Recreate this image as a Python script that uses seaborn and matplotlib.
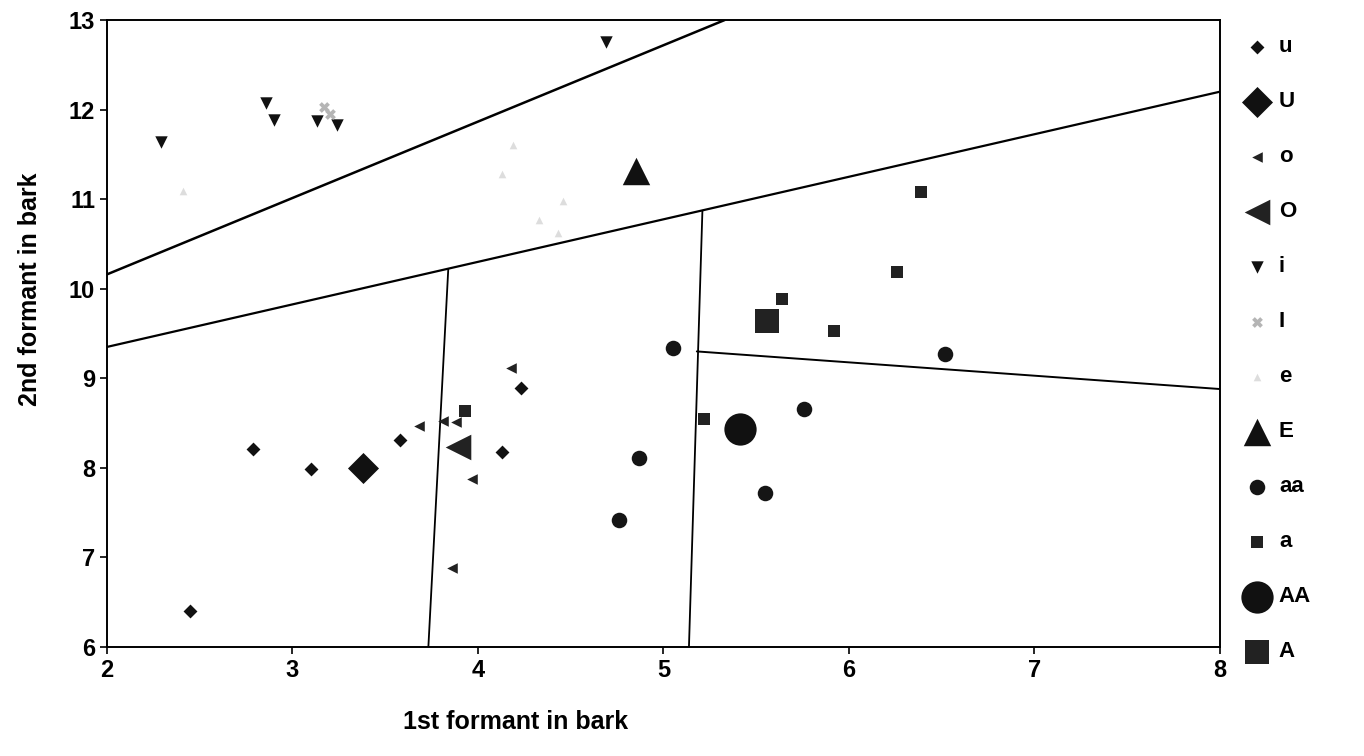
import matplotlib
matplotlib.use("Agg")
import matplotlib.pyplot as plt
import seaborn as sns

# vowel tokens (F1, F2 in bark)
u_x = [2.45, 2.79, 3.10, 3.58, 4.13, 4.23]
u_y = [6.40, 8.21, 7.99, 8.31, 8.18, 8.89]
U_x = [3.38]
U_y = [8.00]
o_x = [3.68, 3.81, 3.88, 3.97, 3.86, 4.18]
o_y = [8.47, 8.52, 8.51, 7.88, 6.88, 9.12]
O_x = [3.89]
O_y = [8.23]
i_x = [2.29, 2.86, 2.90, 3.13, 3.24, 4.69]
i_y = [11.64, 12.07, 11.88, 11.87, 11.83, 12.76]
I_x = [3.17, 3.20]
I_y = [12.03, 11.95]
e_x = [2.41, 4.13, 4.19, 4.33, 4.43, 4.46]
e_y = [11.09, 11.28, 11.61, 10.77, 10.62, 10.98]
E_x = [4.85]
E_y = [11.32]
aa_x = [4.76, 4.87, 5.05, 5.55, 5.76, 6.52]
aa_y = [7.42, 8.11, 9.34, 7.72, 8.66, 9.27]
a_x = [3.93, 5.22, 5.64, 5.92, 6.26, 6.39]
a_y = [8.64, 8.55, 9.88, 9.53, 10.19, 11.08]
AA_x = [5.41]
AA_y = [8.43]
A_x = [5.56]
A_y = [9.64]

# category boundaries (end points)
line1_x = [2.0, 5.33]
line1_y = [10.16, 13.0]
line2_x = [2.0, 8.0]
line2_y = [9.35, 12.2]
line3_x = [3.72, 3.84]
line3_y = [5.5, 10.22]
line4_x = [5.13, 5.21]
line4_y = [5.5, 10.87]
line5_x = [5.18, 8.0]
line5_y = [9.30, 8.88]

x_ticks = [2, 3, 4, 5, 6, 7, 8]
y_ticks = [6, 7, 8, 9, 10, 11, 12, 13]

sns.set_style("ticks")
plt.rcParams['font.family'] = ['Liberation Sans', 'DejaVu Sans']
plt.rcParams['font.weight'] = 'bold'

fig = plt.figure(figsize=(13.64, 7.56), dpi=100)
ax = fig.add_axes([0.0784, 0.1442, 0.816, 0.8293])

groups = [
    ("u", u_x, u_y, "D", 50, "#111111"),
    ("U", U_x, U_y, "D", 250, "#111111"),
    ("o", o_x, o_y, "<", 58, "#222222"),
    ("O", O_x, O_y, "<", 340, "#222222"),
    ("i", i_x, i_y, "v", 80, "#111111"),
    ("I", I_x, I_y, "X", 60, "#b5b5b5"),
    ("e", e_x, e_y, "^", 30, "#dddddd"),
    ("E", E_x, E_y, "^", 390, "#111111"),
    ("aa", aa_x, aa_y, "o", 125, "#151515"),
    ("a", a_x, a_y, "s", 68, "#222222"),
    ("AA", AA_x, AA_y, "o", 540, "#111111"),
    ("A", A_x, A_y, "s", 310, "#222222"),
]

for name, xs, ys, mk, sz, col in groups:
    sns.scatterplot(x=xs, y=ys, marker=mk, s=sz, color=col, linewidth=0,
                    label=name, ax=ax, zorder=3)

for lx, ly, lw in [(line1_x, line1_y, 1.8), (line2_x, line2_y, 1.6),
                   (line3_x, line3_y, 1.3), (line4_x, line4_y, 1.3),
                   (line5_x, line5_y, 1.4)]:
    sns.lineplot(x=lx, y=ly, color="black", linewidth=lw, ax=ax,
                 estimator=None, sort=False, zorder=2)

ax.set_xlim(2, 8)
ax.set_ylim(6, 13)
ax.set_xticks(x_ticks)
ax.set_yticks(y_ticks)
ax.tick_params(labelsize=17, length=5, width=1.2, colors="black")
for sp in ax.spines.values():
    sp.set_visible(True)
    sp.set_color("black")
    sp.set_linewidth(1.4)

ax.set_xlabel("1st formant in bark", fontsize=18, color="black", fontweight="bold")
ax.set_ylabel("2nd formant in bark", fontsize=18, color="black", fontweight="bold")
ax.xaxis.set_label_coords(0.367, -0.1)
ax.yaxis.set_label_coords(-0.058, 0.57)

leg = ax.legend(loc="upper left", bbox_to_anchor=(1.021, 0.974), frameon=False,
                fontsize=16, labelspacing=1.53, handletextpad=0.4,
                handlelength=1.2, borderaxespad=0, borderpad=0)
for t in leg.get_texts():
    t.set_color("black")

fig.savefig("out.png", dpi=100, facecolor="white")
